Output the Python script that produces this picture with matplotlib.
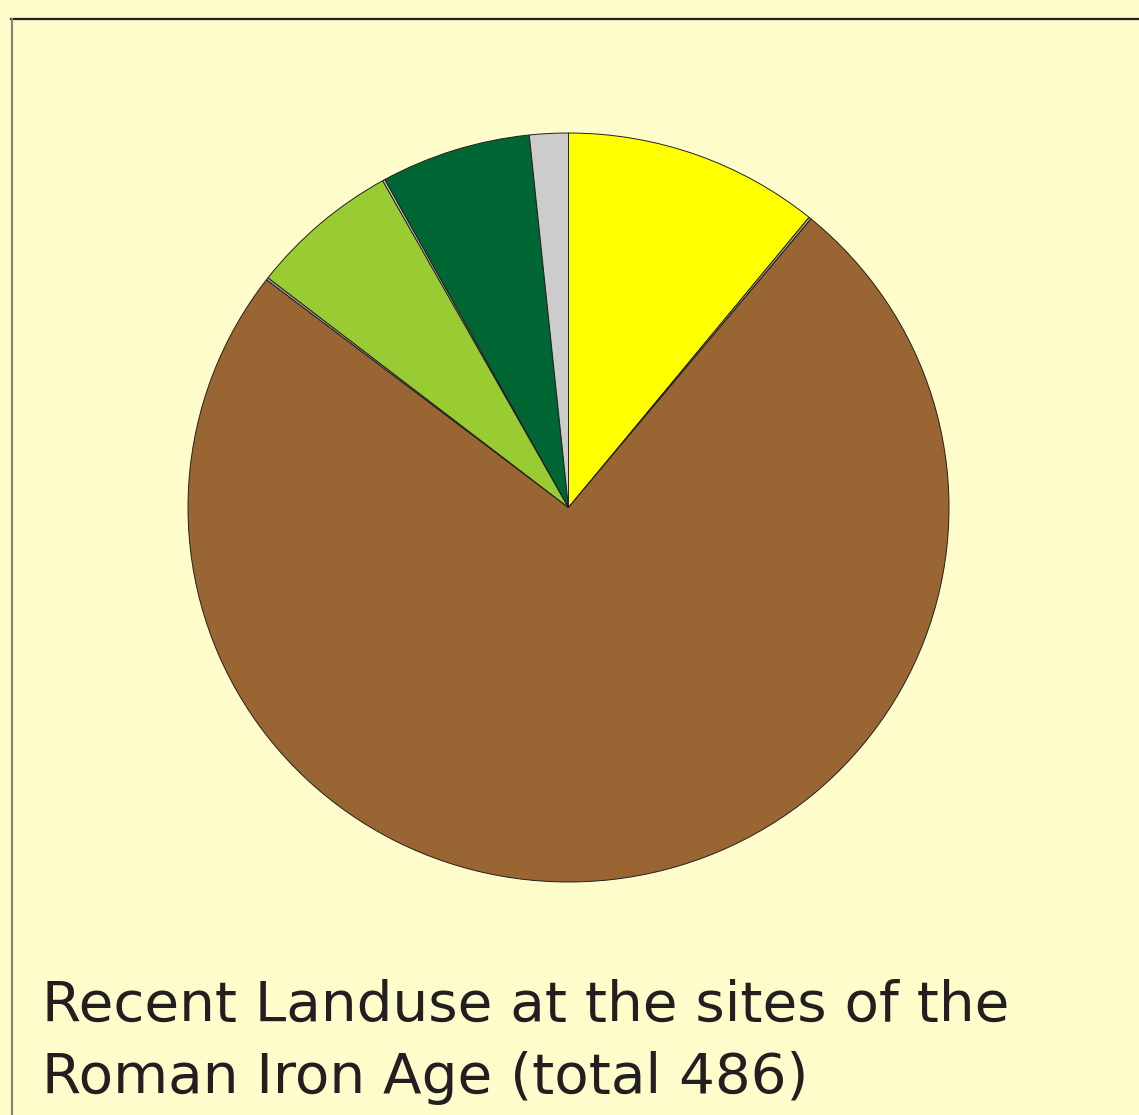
import matplotlib.pyplot as plt
from matplotlib.lines import Line2D

# landuse categories, clockwise from the top
labels = ['arable', 'other a', 'grassland', 'other b', 'deciduous forest', 'other c', 'conifer forest', 'built-up']
values = [53, 0.5, 362, 0.5, 31, 0.5, 31, 8]
colors = ['#FFFF00', '#B0B0A0', '#996633', '#B0B0A0', '#99CC33', '#C8C8B0', '#006633', '#CCCCCC']

title_lines = ['Recent Landuse at the sites of the', 'Roman Iron Age (total 486)']

W, H = 1139, 1115
bg = '#FFFCCC'
fig = plt.figure(figsize=(W / 100, H / 100), dpi=100, facecolor=bg)

# pie axes (pixel box of the pie in the reference)
cx, cy, rx, ry = 568.5, 507.5, 380.5, 374.5
ax = fig.add_axes([(cx - rx) / W, (H - cy - ry) / H, 2 * rx / W, 2 * ry / H])
ax.pie(values, colors=colors, startangle=90, counterclock=False,
       wedgeprops=dict(edgecolor='#231F20', linewidth=0.7))
ax.set_aspect('auto')
ax.set_xlim(-1, 1)
ax.set_ylim(-1, 1)
ax.axis('off')

# frame lines
fig.add_artist(Line2D([11 / W, 1], [1 - 19 / H, 1 - 19 / H], color='#231F20', lw=1.6,
                      transform=fig.transFigure))
fig.add_artist(Line2D([11.5 / W, 11.5 / W], [0, 1 - 19 / H], color='#8A8470', lw=1.6,
                      transform=fig.transFigure))

tc = '#231F20'
fig.text(42 / W, 1 - 1021 / H, title_lines[0], fontsize=40.6, color=tc,
         family='DejaVu Sans', va='baseline', ha='left')
fig.text(42 / W, 1 - 1093 / H, title_lines[1], fontsize=40.6, color=tc,
         family='DejaVu Sans', va='baseline', ha='left')

plt.savefig('out.png', dpi=100, facecolor=bg)
